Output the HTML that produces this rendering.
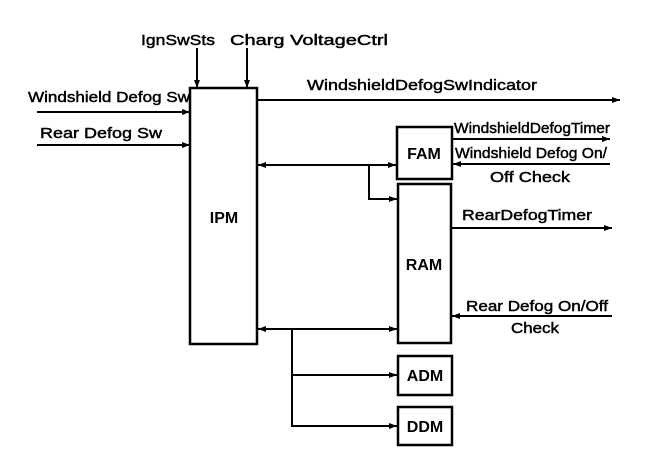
<!DOCTYPE html>
<html><head><style>html,body{margin:0;padding:0;background:#fff}svg{display:block}</style></head>
<body>
<svg width="672" height="462" viewBox="0 0 672 462" xmlns="http://www.w3.org/2000/svg">
<defs>
<marker id="a" markerWidth="8" markerHeight="6" refX="8" refY="3" orient="auto" markerUnits="userSpaceOnUse"><path d="M0,0 L8,3 L0,6z" fill="#000"/></marker>
<marker id="s" markerWidth="8" markerHeight="6" refX="0" refY="3" orient="auto" markerUnits="userSpaceOnUse"><path d="M8,0 L0,3 L8,6z" fill="#000"/></marker>
</defs>
<g fill="none" stroke="#000" stroke-width="2.5">
<rect x="190" y="88" width="67" height="256"/>
<rect x="397" y="127" width="55" height="52"/>
<rect x="398" y="184" width="53" height="159"/>
<rect x="398" y="356" width="54" height="39"/>
<rect x="398" y="407" width="54" height="38"/>
</g>
<g stroke="#000" stroke-width="2" fill="none">
<line x1="197" y1="48" x2="197" y2="88" marker-end="url(#a)"/>
<line x1="247" y1="48" x2="247" y2="88" marker-end="url(#a)"/>
<line x1="37" y1="112" x2="190" y2="112" marker-end="url(#a)"/>
<line x1="37" y1="145" x2="190" y2="145" marker-end="url(#a)"/>
<line x1="257" y1="100" x2="620" y2="100" marker-end="url(#a)"/>
<line x1="258" y1="165" x2="396" y2="165" marker-start="url(#s)" marker-end="url(#a)"/>
<polyline points="369,165 369,199 397,199" marker-end="url(#a)"/>
<line x1="452" y1="139" x2="610" y2="139" marker-end="url(#a)"/>
<line x1="610" y1="164" x2="453" y2="164" marker-end="url(#a)"/>
<line x1="452" y1="228" x2="612" y2="228" marker-end="url(#a)"/>
<line x1="612" y1="316" x2="452" y2="316" marker-end="url(#a)"/>
<line x1="258" y1="329" x2="397" y2="329" marker-start="url(#s)" marker-end="url(#a)"/>
<polyline points="292,329 292,426 397,426" marker-end="url(#a)"/>
<line x1="292" y1="375" x2="397" y2="375" marker-end="url(#a)"/>
</g>
<g font-family="Liberation Sans, sans-serif" font-size="15" fill="#000" stroke="#000" stroke-width="0.45">
<text x="141" y="45" textLength="74" lengthAdjust="spacingAndGlyphs">IgnSwSts</text>
<text x="230" y="45" textLength="158" lengthAdjust="spacingAndGlyphs">Charg VoltageCtrl</text>
<text x="28" y="102" textLength="162" lengthAdjust="spacingAndGlyphs">Windshield Defog Sw</text>
<text x="40" y="138" textLength="122" lengthAdjust="spacingAndGlyphs">Rear Defog Sw</text>
<text x="307" y="90" textLength="230" lengthAdjust="spacingAndGlyphs">WindshieldDefogSwIndicator</text>
<text x="454" y="133" textLength="156" lengthAdjust="spacingAndGlyphs">WindshieldDefogTimer</text>
<text x="455" y="158" textLength="152" lengthAdjust="spacingAndGlyphs">Windshield Defog On/</text>
<text x="490" y="182" textLength="80" lengthAdjust="spacingAndGlyphs">Off Check</text>
<text x="462" y="220" textLength="130" lengthAdjust="spacingAndGlyphs">RearDefogTimer</text>
<text x="466" y="311" textLength="142" lengthAdjust="spacingAndGlyphs">Rear Defog On/Off</text>
<text x="511" y="333" textLength="48" lengthAdjust="spacingAndGlyphs">Check</text>
</g>
<g font-family="Liberation Sans, sans-serif" font-size="16" font-weight="bold" fill="#000" text-anchor="middle">
<text x="224" y="223">IPM</text>
<text x="424" y="159">FAM</text>
<text x="424" y="270">RAM</text>
<text x="425" y="381">ADM</text>
<text x="425" y="432">DDM</text>
</g>
</svg>
</body></html>
